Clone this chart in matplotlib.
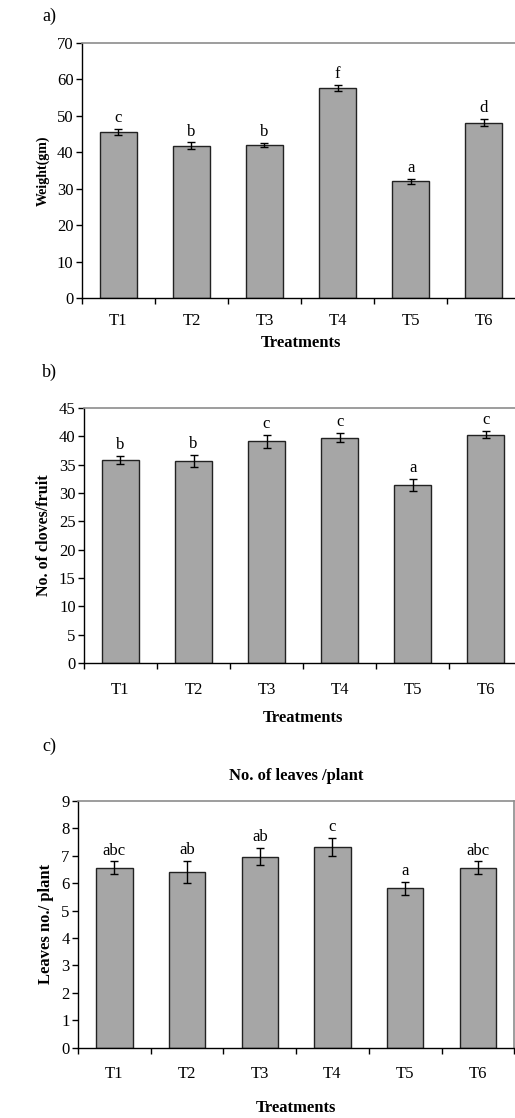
import matplotlib
matplotlib.use("Agg")
import matplotlib.pyplot as plt
import numpy as np

plt.rcParams["font.family"] = ["Liberation Serif", "DejaVu Serif"]

treatments = ["T1", "T2", "T3", "T4", "T5", "T6"]

weight = [45.6, 41.8, 42.0, 57.7, 32.0, 48.1]
weight_err = [0.9, 0.9, 0.6, 0.9, 0.8, 1.0]
weight_letters = ["c", "b", "b", "f", "a", "d"]

cloves = [35.9, 35.7, 39.1, 39.8, 31.4, 40.3]
cloves_err = [0.7, 1.1, 1.1, 0.8, 1.1, 0.65]
cloves_letters = ["b", "b", "c", "c", "a", "c"]

leaves = [6.57, 6.41, 6.97, 7.32, 5.81, 6.57]
leaves_err = [0.23, 0.41, 0.32, 0.34, 0.25, 0.23]
leaves_letters = ["abc", "ab", "ab", "c", "a", "abc"]

BAR = "#a6a6a6"
FS = 12


def panel(fig, rect, vals, errs, letters, ymax, ystep, ylabel, ylabel_size,
          tick_pad, xlab_pad):
    ax = fig.add_axes(rect)
    x = np.arange(1, len(vals) + 1)
    ax.bar(x, vals, width=0.5, color=BAR, edgecolor="#222222", linewidth=1.0, zorder=2)
    ax.errorbar(x, vals, yerr=errs, fmt="none", ecolor="black", elinewidth=1.0,
                capsize=2.8, capthick=1.0, zorder=3)
    for xi, v, e, lab in zip(x, vals, errs, letters):
        ax.annotate(lab, (xi, v + e), xytext=(0, 2), textcoords="offset points",
                    ha="center", va="bottom", fontsize=FS)
    ax.set_xlim(0.5, len(vals) + 0.5)
    ax.set_ylim(0, ymax)
    ax.set_yticks(np.arange(0, ymax + 0.01, ystep))
    ax.set_xticks(x)
    ax.set_xticklabels(treatments)
    ax.set_xticks(np.arange(0.5, len(vals) + 1, 1.0), minor=True)
    ax.tick_params(axis="x", which="major", length=0, pad=tick_pad, labelsize=FS)
    ax.tick_params(axis="x", which="minor", length=4, width=1, direction="out")
    ax.tick_params(axis="y", length=4, width=1, direction="out", labelsize=FS, pad=2)
    for s in ["top", "right"]:
        ax.spines[s].set_color("#8c8c8c")
        ax.spines[s].set_linewidth(1.2)
    for s in ["left", "bottom"]:
        ax.spines[s].set_color("black")
        ax.spines[s].set_linewidth(1.0)
    ax.set_ylabel(ylabel, fontsize=ylabel_size, fontweight="bold", labelpad=5)
    ax.set_xlabel("Treatments", fontsize=FS, fontweight="bold", labelpad=xlab_pad)
    return ax


fig = plt.figure(figsize=(5.15, 11.18), dpi=100)

ax_a = panel(fig, [0.159, 0.7335, 0.851, 0.228], weight, weight_err, weight_letters,
             70, 10, "Weight(gm)", 10, 11, 4)
ax_b = panel(fig, [0.163, 0.407, 0.851, 0.228], cloves, cloves_err, cloves_letters,
             45, 5, "No. of cloves/fruit", 11.5, 13.5, 9)
ax_c = panel(fig, [0.1515, 0.0629, 0.847, 0.2206], leaves, leaves_err, leaves_letters,
             9, 1, "Leaves no./ plant", 12, 13.5, 13)
ax_c.set_title("No. of leaves /plant", fontsize=FS, fontweight="bold", pad=15)

fig.text(0.082, 0.985, "a)", fontsize=13, va="center")
fig.text(0.082, 0.667, "b)", fontsize=13, va="center")
fig.text(0.082, 0.332, "c)", fontsize=13, va="center")

fig.savefig("out.png", dpi=100)
